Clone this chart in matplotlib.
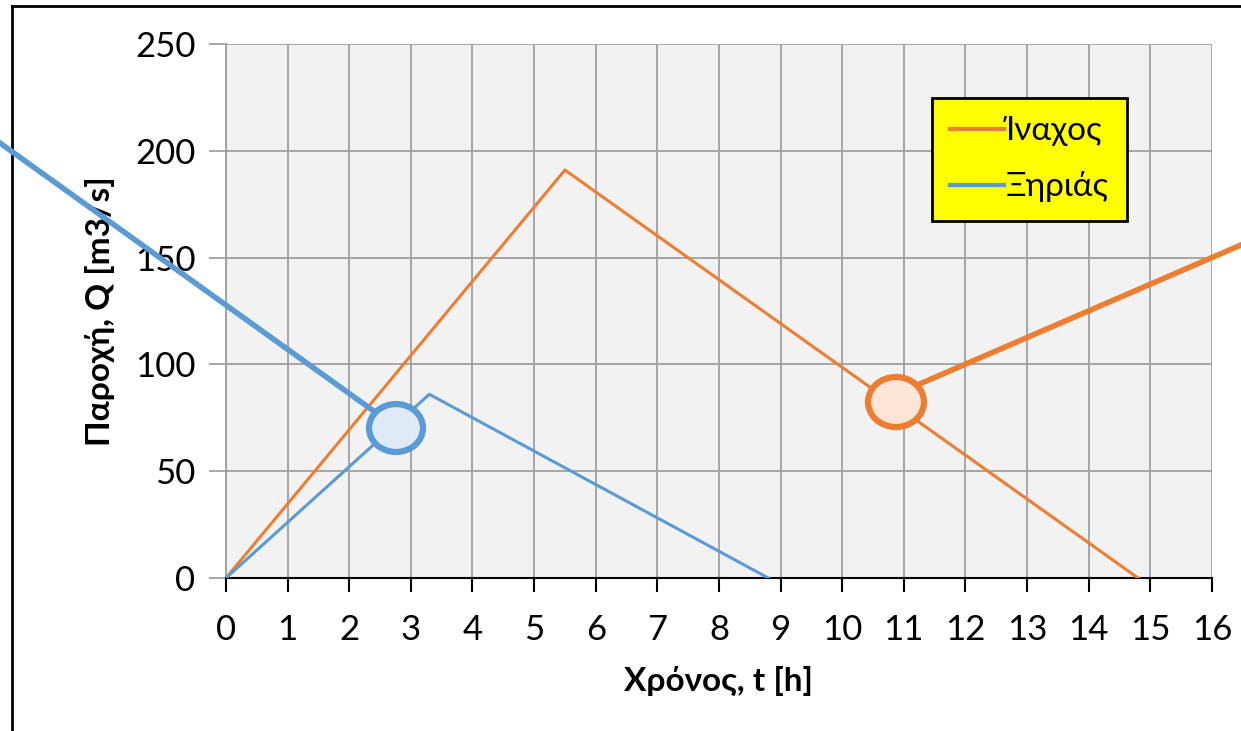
import matplotlib.pyplot as plt
from matplotlib.lines import Line2D
from matplotlib.patches import Ellipse

plt.rcParams['font.family'] = ['Lato', 'DejaVu Sans']

# Hydrograph data (time in h, discharge in m3/s)
t_inachos = [0, 5.5, 14.8]
q_inachos = [0, 191, 0]
t_xirias = [0, 3.3, 8.8]
q_xirias = [0, 86, 0]

x_ticks = list(range(0, 17))
y_ticks = [0, 50, 100, 150, 200, 250]

orange = '#ed7d31'
blue = '#5b9bd5'
W, H = 1241, 731

fig = plt.figure(figsize=(12.41, 7.31), dpi=100)
ax = fig.add_axes([226 / W, (H - 578) / H, 986 / W, 534 / H])
ax.set_facecolor('#f2f2f2')

ax.plot(t_inachos, q_inachos, color=orange, lw=2.2, label='Ίναχος', zorder=3)
ax.plot(t_xirias, q_xirias, color=blue, lw=2.2, label='Ξηριάς', zorder=3)

ax.set_xlim(0, 16)
ax.set_ylim(0, 250)
ax.set_xticks(x_ticks)
ax.set_yticks(y_ticks)
ax.grid(True, color='#a0a0a0', lw=1.3)
ax.set_axisbelow(True)

for s in ['top', 'right']:
    ax.spines[s].set_visible(False)
ax.spines['left'].set_color('#a0a0a0')
ax.spines['left'].set_linewidth(1.3)
ax.spines['bottom'].set_color('black')
ax.spines['bottom'].set_linewidth(1.5)

ax.tick_params(axis='x', direction='out', length=10, width=1.5, color='black',
               labelsize=25, pad=16)
ax.tick_params(axis='y', direction='out', length=12, width=1.3, color='#a0a0a0',
               labelsize=25, pad=10)

ax.set_xlabel('Χρόνος, t [h]', fontsize=24, fontweight='bold', labelpad=14)
ax.set_ylabel('Παροχή, Q [m3/s]', fontsize=24, fontweight='bold', labelpad=14)

leg = ax.legend(loc='upper left', bbox_to_anchor=((932 - 226) / 986, (578 - 98) / 534),
                fontsize=24, frameon=True, fancybox=False, handlelength=1.6,
                handletextpad=0.05, labelspacing=0.75, borderpad=0.55,
                borderaxespad=0)
leg.get_frame().set_facecolor('yellow')
leg.get_frame().set_edgecolor('black')
leg.get_frame().set_linewidth(2)
leg.get_frame().set_alpha(1)
for h in leg.get_lines():
    h.set_linewidth(3)

# callout circles with leader lines, in pixel coords of the figure
def fx(px):
    return px / W

def fy(py):
    return 1 - py / H

fig.add_artist(Line2D([fx(0), fx(375)], [fy(143), fy(412)], color=blue, lw=4,
                      transform=fig.transFigure, zorder=5))
fig.add_artist(Ellipse((fx(396), fy(428)), 54 / W, 48 / H, facecolor='#deebf7',
                       edgecolor=blue, lw=4.5, transform=fig.transFigure, zorder=6))
fig.add_artist(Line2D([fx(915), fx(1241)], [fy(386), fy(245)], color=orange, lw=4,
                      transform=fig.transFigure, zorder=5))
fig.add_artist(Ellipse((fx(896), fy(402)), 56 / W, 50 / H, facecolor='#fbe5d6',
                       edgecolor=orange, lw=4.5, transform=fig.transFigure, zorder=6))

# outer chart border (left and top edges visible)
fig.add_artist(Line2D([fx(12), fx(1241)], [fy(6), fy(6)], color='black', lw=2,
                      transform=fig.transFigure))
fig.add_artist(Line2D([fx(12), fx(12)], [fy(6), fy(731)], color='black', lw=2,
                      transform=fig.transFigure))

fig.savefig('out.png', dpi=100)
